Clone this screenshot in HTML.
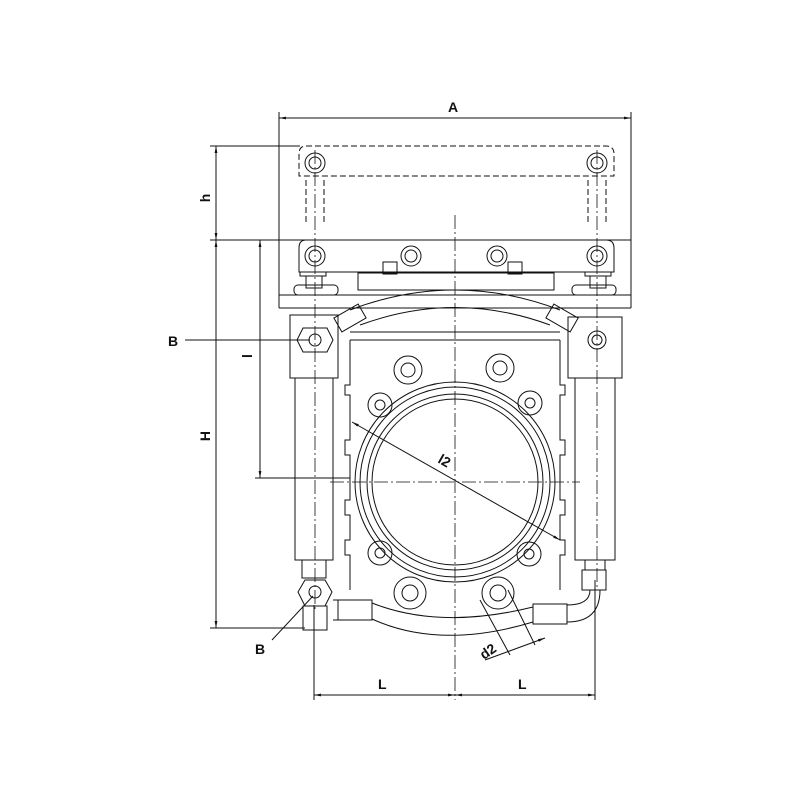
<!DOCTYPE html>
<html><head><style>
html,body{margin:0;padding:0;background:#fff;width:800px;height:800px;overflow:hidden}
text{font-family:"Liberation Sans",sans-serif;font-weight:bold;fill:#111}
</style></head><body>
<svg width="800" height="800" viewBox="0 0 800 800" xmlns="http://www.w3.org/2000/svg">
<defs>
<marker id="ar" viewBox="0 0 10 10" refX="10" refY="5" markerWidth="7" markerHeight="7" orient="auto-start-reverse"><path d="M0,3 L10,5 L0,7 z" fill="#111"/></marker>
</defs>
<g fill="none" stroke="#111" stroke-width="1">
<line x1="279" y1="118" x2="631" y2="118" marker-start="url(#ar)" marker-end="url(#ar)"/>
<line x1="279" y1="112" x2="279" y2="308"/>
<line x1="631" y1="112" x2="631" y2="308"/>
<line x1="210" y1="146" x2="300" y2="146"/>
<line x1="210" y1="240" x2="631" y2="240"/>
<line x1="216" y1="146" x2="216" y2="240" marker-start="url(#ar)" marker-end="url(#ar)"/>
<line x1="216" y1="240" x2="216" y2="628" marker-start="url(#ar)" marker-end="url(#ar)"/>
<line x1="210" y1="628" x2="305" y2="628"/>
<line x1="260" y1="240" x2="260" y2="478" marker-start="url(#ar)" marker-end="url(#ar)"/>
<line x1="255" y1="478" x2="350" y2="478"/>
<g stroke-dasharray="6,3">
<path d="M306,146 H606 Q614,146 614,154 V176 H299 V154 Q299,146 306,146 Z"/>
<line x1="306" y1="180" x2="306" y2="222"/><line x1="324" y1="180" x2="324" y2="222"/>
<line x1="588" y1="180" x2="588" y2="222"/><line x1="606" y1="180" x2="606" y2="222"/>
</g>
<circle cx="315" cy="163" r="10"/><circle cx="315" cy="163" r="6"/>
<circle cx="597" cy="163" r="10"/><circle cx="597" cy="163" r="6"/>
<path d="M306,240 H606 Q614,240 614,248 V272 H299 V248 Q299,240 306,240 Z"/>
<g>
<circle cx="315" cy="256" r="10"/><circle cx="315" cy="256" r="6"/>
<circle cx="411" cy="256" r="10"/><circle cx="411" cy="256" r="6"/>
<circle cx="497" cy="256" r="10"/><circle cx="497" cy="256" r="6"/>
<circle cx="597" cy="256" r="10"/><circle cx="597" cy="256" r="6"/>
</g>
<rect x="383" y="262" width="14" height="12"/><rect x="508" y="262" width="14" height="12"/>
<rect x="358" y="273" width="196" height="17"/>
<rect x="300" y="272" width="26" height="4"/><rect x="585" y="272" width="26" height="4"/>
<rect x="306" y="276" width="16" height="12"/><rect x="590" y="276" width="16" height="12"/>
<rect x="294" y="285" width="44" height="10" rx="4"/><rect x="572" y="285" width="44" height="10" rx="4"/>
<line x1="279" y1="295" x2="631" y2="295"/>
<line x1="279" y1="308" x2="631" y2="308"/>
<path d="M350,310 Q455,270 560,310"/>
<path d="M360,325 Q455,290 550,325"/>
<g transform="translate(350,318) rotate(-30)"><rect x="-14" y="-8" width="28" height="16"/></g>
<g transform="translate(562,318) rotate(30)"><rect x="-14" y="-8" width="28" height="16"/></g>
<path d="M350,340 V385 H345 V395 H350 V440 H345 V455 H350 V500 H345 V515 H350 V540 H345 V555 H350 V590 M560,340 V385 H565 V395 H560 V440 H565 V455 H560 V500 H565 V515 H560 V540 H565 V555 H560 V590"/>
<line x1="350" y1="340" x2="560" y2="340"/>
<path d="M350,332 H560"/>
<circle cx="455" cy="482" r="100"/>
<circle cx="455" cy="482" r="95"/>
<circle cx="455" cy="482" r="88"/>
<circle cx="455" cy="482" r="83"/>
<g>
<circle cx="408" cy="370" r="14"/><circle cx="408" cy="370" r="7"/>
<circle cx="500" cy="368" r="14"/><circle cx="500" cy="368" r="7"/>
<circle cx="380" cy="405" r="12"/><circle cx="380" cy="405" r="5"/>
<circle cx="530" cy="403" r="12"/><circle cx="530" cy="403" r="5"/>
<circle cx="380" cy="553" r="12"/><circle cx="380" cy="553" r="5"/>
<circle cx="529" cy="554" r="12"/><circle cx="529" cy="554" r="5"/>
<circle cx="410" cy="593" r="16"/><circle cx="410" cy="593" r="8"/>
<circle cx="498" cy="593" r="16"/><circle cx="498" cy="593" r="8"/>
</g>
<line x1="352" y1="422" x2="560" y2="540" marker-start="url(#ar)" marker-end="url(#ar)"/>
<rect x="290" y="315" width="48" height="63"/>
<rect x="295" y="378" width="38" height="182"/>
<rect x="302" y="560" width="24" height="18"/>
<polygon points="305,580 325,580 332,592 325,606 305,606 298,592"/>
<circle cx="315" cy="340" r="6"/>
<polygon points="303,328 327,328 333,340 327,352 303,352 297,340"/>
<circle cx="315" cy="592" r="6"/>
<rect x="303" y="606" width="24" height="24"/>
<rect x="568" y="317" width="54" height="61"/>
<rect x="575" y="378" width="40" height="182"/>
<rect x="585" y="560" width="20" height="10"/>
<rect x="582" y="570" width="24" height="20"/>
<circle cx="597" cy="340" r="9"/><circle cx="597" cy="340" r="5"/>
<rect x="338" y="600" width="34" height="20"/>
<rect x="533" y="604" width="34" height="20"/>
<path d="M372,603 Q440,630 533,607"/>
<path d="M372,619 Q440,650 533,622"/>
<path d="M567,605 Q590,605 590,590 M567,622 Q600,622 600,590"/>
<path d="M333,600 H338 M333,620 H338"/>
<line x1="480" y1="600" x2="510" y2="655"/>
<line x1="508" y1="590" x2="535" y2="645"/>
<line x1="485" y1="660" x2="545" y2="638" marker-end="url(#ar)"/>
<line x1="314" y1="605" x2="314" y2="700"/>
<line x1="595" y1="580" x2="595" y2="700"/>
<line x1="314" y1="695" x2="455" y2="695" marker-start="url(#ar)" marker-end="url(#ar)"/>
<line x1="455" y1="695" x2="595" y2="695" marker-start="url(#ar)" marker-end="url(#ar)"/>
<line x1="185" y1="340" x2="310" y2="340"/>
<line x1="272" y1="640" x2="313" y2="596"/>
</g>
<g stroke="#111" stroke-width="0.8" stroke-dasharray="14,3,2,3" fill="none">
<line x1="455" y1="215" x2="455" y2="700"/>
<line x1="330" y1="482" x2="580" y2="482"/>
<line x1="315" y1="150" x2="315" y2="610"/>
<line x1="597" y1="150" x2="597" y2="590"/>
</g>
<text x="448" y="112" font-size="14">A</text>
<text x="210" y="198" font-size="14" transform="rotate(-90 210 198)" text-anchor="middle">h</text>
<text x="210" y="436" font-size="14" transform="rotate(-90 210 436)" text-anchor="middle">H</text>
<text x="252" y="356" font-size="14" transform="rotate(-90 252 356)" text-anchor="middle">l</text>
<text x="168" y="346" font-size="14">B</text>
<text x="255" y="654" font-size="14">B</text>
<text x="378" y="689" font-size="14">L</text>
<text x="518" y="689" font-size="14">L</text>
<text x="437" y="462" font-size="14" transform="rotate(30 437 462)">l2</text>
<text x="484" y="660" font-size="14" transform="rotate(-35 484 660)">d2</text>
</svg>
</body></html>
